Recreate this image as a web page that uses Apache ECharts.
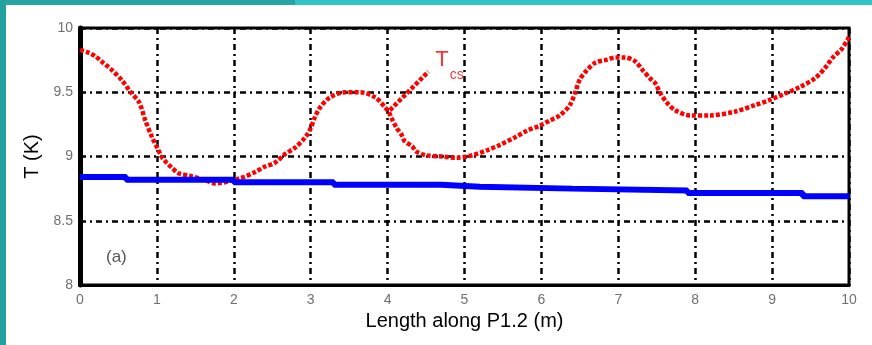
<!DOCTYPE html>
<html>
<head>
<meta charset="utf-8">
<script src="https://cdn.jsdelivr.net/npm/echarts@6/dist/echarts.min.js"></script>
<style>
  html, body { margin: 0; padding: 0; background: #ffffff; }
  #chart { width: 872px; height: 345px; }
</style>
</head>
<body>
<div id="chart"></div>
<script>
// Position along P1.2 (m) and current-sharing temperature Tcs (K)
const tcsLength = [0.00, 0.10, 0.20, 0.30, 0.42, 0.55, 0.66, 0.77, 0.85, 0.93, 1.01, 1.07, 1.13, 1.20, 1.28, 1.43, 1.65, 1.75,
  2.08, 2.28, 2.40, 2.53, 2.67, 2.80, 2.93, 3.00, 3.05, 3.12, 3.25, 3.45, 3.64, 3.84, 3.97, 4.02, 4.05, 4.12, 4.18, 4.22, 4.32,
  4.37, 4.50, 4.70, 4.90, 5.10, 5.30, 5.46, 5.66, 5.81, 5.98, 6.11, 6.24, 6.37, 6.44, 6.50, 6.59, 6.70, 6.83, 6.96, 7.09, 7.22,
  7.32, 7.41, 7.48, 7.54, 7.63, 7.74, 7.93, 8.19, 8.52, 8.78, 8.97, 9.17, 9.36, 9.56, 9.69, 9.79, 9.91, 10.00];
const tcsValue = [9.83, 9.81, 9.78, 9.73, 9.67, 9.59, 9.50, 9.42, 9.28, 9.16, 9.06, 8.99, 8.95, 8.91, 8.87, 8.85, 8.81, 8.79,
  8.83, 8.88, 8.92, 8.95, 9.02, 9.07, 9.15, 9.22, 9.30, 9.38, 9.46, 9.50, 9.50, 9.46, 9.38, 9.34, 9.30, 9.22, 9.17, 9.12, 9.08,
  9.04, 9.01, 9.00, 8.99, 9.01, 9.05, 9.09, 9.15, 9.20, 9.24, 9.28, 9.32, 9.40, 9.50, 9.60, 9.67, 9.73, 9.75, 9.77, 9.77, 9.74,
  9.67, 9.61, 9.57, 9.50, 9.42, 9.36, 9.32, 9.32, 9.35, 9.40, 9.44, 9.49, 9.54, 9.61, 9.69, 9.77, 9.84, 9.93];

// Conductor temperature along the same length (stepped profile)
const condLength = [0.0, 0.6, 2.0, 3.3, 4.7, 5.2, 6.4, 7.9, 9.4, 10.0];
const condValue  = [8.84, 8.82, 8.80, 8.78, 8.765, 8.75, 8.735, 8.715, 8.69, 8.69];

// Pointer from the Tcs curve to its label
const pointerLength = [4.03, 4.53];
const pointerValue  = [9.36, 9.66];

// Axis ticks
const xTicks = [0, 1, 2, 3, 4, 5, 6, 7, 8, 9, 10];
const yTicks = [8, 8.5, 9, 9.5, 10];

const zip = (xs, ys) => xs.map((x, i) => [x, ys[i]]);

const gridLine = { show: true, lineStyle: { color: '#000', width: 2.5, type: [6, 4, 2, 4] } };
const tickFont = { color: '#707070', fontSize: 14, fontFamily: 'Liberation Sans, Arial, sans-serif' };

const chart = echarts.init(document.getElementById('chart'), null, { renderer: 'canvas' });
chart.setOption({
  animation: false,
  backgroundColor: '#ffffff',
  grid: { left: 80, right: 23, top: 28, bottom: 60, show: true, borderColor: '#000', borderWidth: 3, backgroundColor: 'transparent' },
  xAxis: {
    type: 'value', min: xTicks[0], max: xTicks[xTicks.length - 1], interval: 1,
    name: 'Length along P1.2 (m)', nameLocation: 'middle', nameGap: 24,
    nameTextStyle: { color: '#000', fontSize: 20, fontFamily: 'Liberation Sans, Arial, sans-serif' },
    axisLine: { show: true, lineStyle: { color: '#000', width: 3 } },
    axisTick: { show: false },
    axisLabel: Object.assign({ margin: 8 }, tickFont),
    splitLine: gridLine
  },
  yAxis: {
    type: 'value', min: yTicks[0], max: yTicks[yTicks.length - 1], interval: 0.5,
    name: 'T (K)', nameLocation: 'middle', nameGap: 33,
    nameTextStyle: { color: '#000', fontSize: 20, fontFamily: 'Liberation Sans, Arial, sans-serif' },
    axisLine: { show: true, lineStyle: { color: '#000', width: 5 } },
    axisTick: { show: false },
    axisLabel: Object.assign({ margin: 7 }, tickFont),
    splitLine: gridLine
  },
  series: [
    {
      name: 'Tcs', type: 'line', data: zip(tcsLength, tcsValue), showSymbol: false, smooth: 0.3,
      lineStyle: { color: '#ff0000', width: 4.5, type: [4, 2], cap: 'butt' }, z: 3
    },
    {
      name: 'pointer', type: 'line', data: zip(pointerLength, pointerValue), showSymbol: false,
      lineStyle: { color: '#ff0000', width: 4.5, type: [4, 2] }, z: 3
    },
    {
      name: 'label', type: 'scatter', data: [zip(pointerLength, pointerValue)[1]], symbolSize: 0,
      label: {
        show: true, position: [7, -23], formatter: '{t|T}{s|cs}',
        rich: {
          t: { color: '#ff0000', fontSize: 22, fontFamily: 'Liberation Sans, Arial, sans-serif', verticalAlign: 'top', lineHeight: 22 },
          s: { color: '#ff0000', fontSize: 14, fontFamily: 'Liberation Sans, Arial, sans-serif', padding: [19, 0, 0, 1] }
        }
      }
    },
    {
      name: 'T', type: 'line', data: zip(condLength, condValue), showSymbol: false, step: 'end',
      lineStyle: { color: '#0000ff', width: 6 }, z: 4
    }
  ],
  graphic: [
    { type: 'rect', shape: { x: 0, y: 0, width: 295, height: 5 }, style: { fill: '#26a4a6' }, z: 10 },
    { type: 'rect', shape: { x: 295, y: 0, width: 577, height: 5 }, style: { fill: '#2ec4c6' }, z: 10 },
    { type: 'rect', shape: { x: 0, y: 0, width: 6, height: 345 }, style: { fill: '#24a0a0' }, z: 10 },
    { type: 'text', left: 106, top: 249, style: { text: '(a)', fill: '#555', font: '17px Liberation Sans, Arial, sans-serif' }, z: 10 }
  ]
});
</script>
</body>
</html>
